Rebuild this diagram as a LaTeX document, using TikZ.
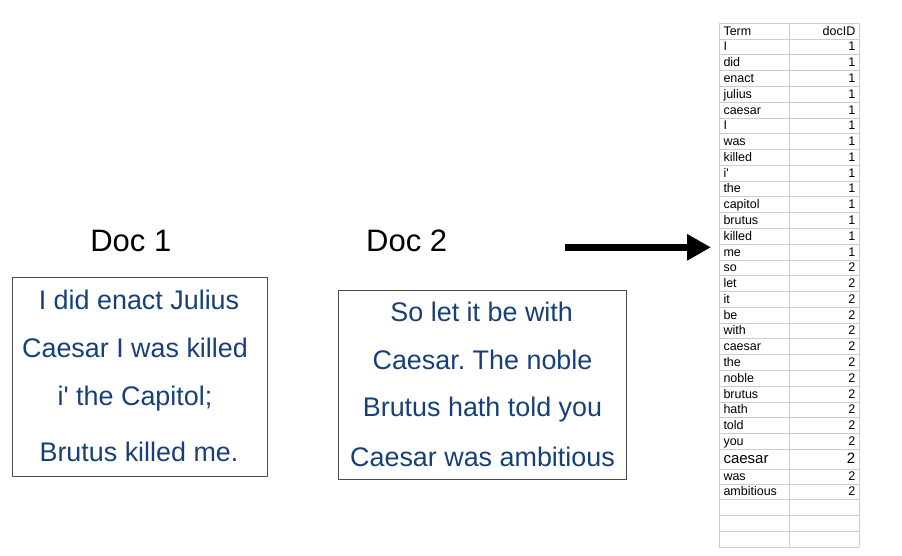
\documentclass[tikz,border=0pt]{standalone}
\usepackage{fontspec}
\setmainfont{Liberation Sans}[Ligatures=TeXOff]
\usetikzlibrary{arrows.meta}
\definecolor{doctext}{RGB}{23,64,120}
\definecolor{gridgray}{RGB}{205,205,205}
\frenchspacing
\begin{document}
\begin{tikzpicture}[x=1pt,y=-1pt,
  cellL/.style={anchor=base west, inner sep=0pt, font=\fontsize{12.5}{14}\selectfont},
  cellR/.style={anchor=base east, inner sep=0pt, font=\fontsize{12.5}{14}\selectfont},
  doclabel/.style={anchor=base, inner sep=0pt, font=\fontsize{31}{36}\selectfont},
  docline/.style={anchor=base, inner sep=0pt, text=doctext, font=\fontsize{26.9}{30}\selectfont},
  docbox/.style={draw=black!70, line width=0.9pt, anchor=north west, inner sep=0pt},
  gridline/.style={draw=gridgray, line width=0.8pt},
  bigarrow/.style={line width=6.5pt, -{Triangle[length=24pt,width=25pt]}}]
\useasboundingbox (0,0) rectangle (902,555);

% Document boxes
\node[docbox, minimum width=255pt, minimum height=199.3pt] (box1) at (11.7,276.7) {};
\node[docbox, minimum width=287.7pt, minimum height=189.3pt] (box2) at (338.3,290) {};

% Labels
\node[doclabel] (lab1) at (130.8,251.7) {Doc 1};
\node[doclabel] (lab2) at (406.7,251.7) {Doc 2};

% Doc 1 text
\node[docline] (d1a) at (139,309.3) {I did enact Julius};
\node[docline] (d1b) at (135,357.7) {Caesar I was killed};
\node[docline] (d1c) at (135,405) {i' the Capitol;};
\node[docline] (d1d) at (139,461.7) {Brutus killed me.};

% Doc 2 text
\node[docline] (d2a) at (481.7,321) {So let it be with};
\node[docline] (d2b) at (482.5,369.3) {Caesar. The noble};
\node[docline] (d2c) at (482.5,416.7) {Brutus hath told you};
\node[docline] (d2d) at (482.5,466.7) {Caesar was ambitious};

% Arrow
\coordinate (arrowstart) at (565,247.3);
\coordinate (arrowend) at (711,247.3);
\draw[bigarrow] (arrowstart) -- (arrowend);

% Table grid
\foreach \yy in {23.3,39,469.3,484.3,499.3,515.2,531.1,547}
  \draw[gridline] (719.3,\yy) -- (859,\yy);
\foreach \k in {1,...,26}
  \draw[gridline] (719.3,39+\k*15.78) -- (859,39+\k*15.78);
\foreach \xx in {719.3,789.3,859}
  \draw[gridline] (\xx,23.3) -- (\xx,547);

% Header
\node[cellL] (hterm) at (723.3,35.3) {Term};
\node[cellR] (hdoc) at (855.5,35.3) {docID};

% Data rows
\foreach \t/\d [count=\i] in {I/1,did/1,enact/1,julius/1,caesar/1,I/1,was/1,killed/1,{i'}/1,the/1,capitol/1,brutus/1,killed/1,me/1,so/2,let/2,it/2,be/2,with/2,caesar/2,the/2,noble/2,brutus/2,hath/2,told/2,you/2}{
  \node[cellL] (term\i) at (723.3,39+\i*15.78-3.9) {\t};
  \node[cellR] (doc\i) at (855.5,39+\i*15.78-3.9) {\d};
}
\node[cellL, font=\fontsize{15}{17}\selectfont] (term27) at (723.3,463.5) {caesar};
\node[cellR, font=\fontsize{15}{17}\selectfont] (doc27) at (855.5,463.5) {2};
\node[cellL] (term28) at (723.3,480.5) {was};
\node[cellR] (doc28) at (855.5,480.5) {2};
\node[cellL] (term29) at (723.3,495.5) {ambitious};
\node[cellR] (doc29) at (855.5,495.5) {2};
\end{tikzpicture}
\end{document}
